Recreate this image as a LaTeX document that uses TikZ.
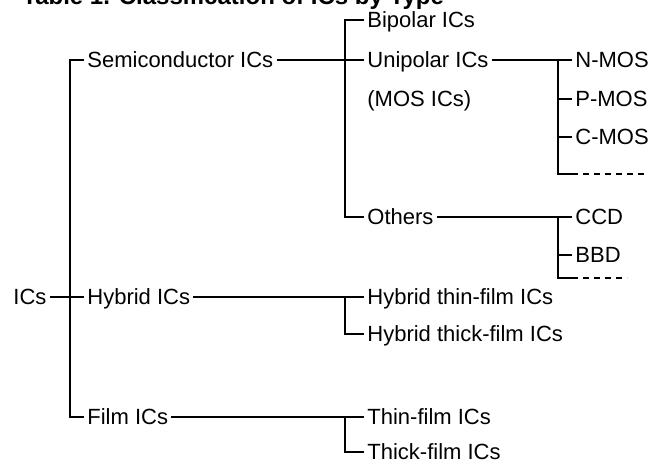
\documentclass[tikz,border=0pt]{standalone}
\usepackage{fontspec}
\setmainfont{Liberation Sans}
\usetikzlibrary{positioning, calc}
\tikzset{
  item/.style={anchor=west, inner sep=1.5pt, text height=8pt, text depth=0.5pt, font=\fontsize{11}{13}\selectfont},
  branch/.style={line width=0.6pt},
  open/.style={line width=0.6pt, dash pattern=on 3pt off 2.5pt}
}

\begin{document}
\begin{tikzpicture}[x=0.5pt, y=-0.5pt]
        \useasboundingbox (0,0) rectangle (660,464);

        % --- Titulo (cortado arriba) ---
        \node (title) [anchor=base west, inner sep=0pt, font=\fontsize{12}{14}\selectfont\bfseries] at (22,5) {Table 1. Classification of ICs by Type};

        % --- Raiz y primer nivel ---
        \node (ics) [item] at (10,297) {ICs};
        \node (semi) [item] at (84,60) {Semiconductor ICs};
        \node (hyb) [item] at (84,297) {Hybrid ICs};
        \node (film) [item] at (84,417) {Film ICs};
        \coordinate (v0) at (70,297);

        % --- Segundo nivel ---
        \node (bip) [item] at (364,20) {Bipolar ICs};
        \node (uni) [item] at (364,60) {Unipolar ICs};
        \node (mos) [item] at (364,99) {(MOS ICs)};
        \node (oth) [item] at (364,217) {Others};
        \node (hthin) [item] at (364,297) {Hybrid thin-film ICs};
        \node (hthick) [item] at (364,334) {Hybrid thick-film ICs};
        \node (thin) [item] at (364,417) {Thin-film ICs};
        \node (thick) [item] at (364,452) {Thick-film ICs};
        \coordinate (v1) at (345,60);

        % --- Tercer nivel ---
        \node (nmos) [item] at (572,60) {N-MOS};
        \node (pmos) [item] at (572,99) {P-MOS};
        \node (cmos) [item] at (572,137) {C-MOS};
        \node (ccd) [item] at (572,217) {CCD};
        \node (bbd) [item] at (572,255) {BBD};
        \coordinate (v2) at (558,60);
        \coordinate (more1) at (572,174);
        \coordinate (more1end) at (647,174);
        \coordinate (more2) at (572,278);
        \coordinate (more2end) at (627,278);

        % --- Conexiones de la raiz ---
        \draw [branch] (ics) -- (hyb);
        \draw [branch] (semi.west) -| (v0) |- (film.west);

        % --- Conexiones del segundo nivel ---
        \draw [branch] (semi) -- (uni);
        \draw [branch] (bip.west) -| (v1) |- (oth.west);
        \draw [branch] (hyb) -- (hthin);
        \draw [branch] (hthin.west -| v1) |- (hthick.west);
        \draw [branch] (film) -- (thin);
        \draw [branch] (thin.west -| v1) |- (thick.west);

        % --- Conexiones del tercer nivel ---
        \draw [branch] (uni) -- (nmos);
        \draw [branch] (v2) |- (more1);
        \draw [branch] (pmos.west -| v2) -- (pmos.west);
        \draw [branch] (cmos.west -| v2) -- (cmos.west);
        \draw [open] (more1) -- (more1end);
        \draw [branch] (oth) -- (ccd);
        \draw [branch] (ccd.west -| v2) |- (more2);
        \draw [branch] (bbd.west -| v2) -- (bbd.west);
        \draw [open] (more2) -- (more2end);

\end{tikzpicture}
\end{document}
